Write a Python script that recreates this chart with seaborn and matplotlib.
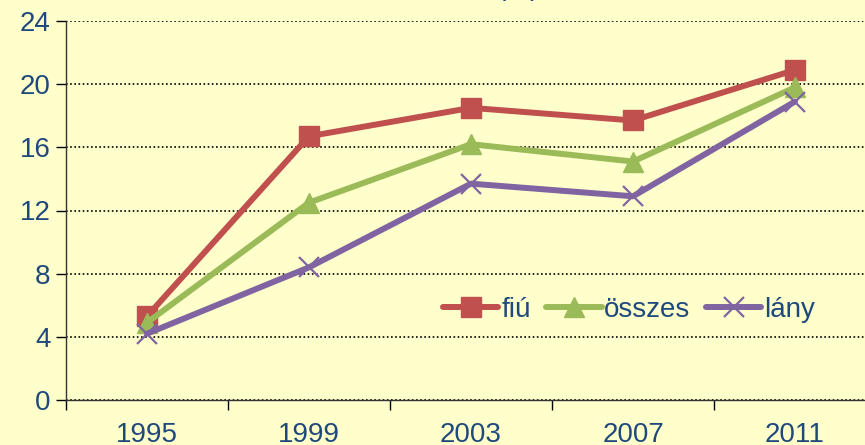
import numpy as np
import seaborn as sns
import matplotlib.pyplot as plt
from matplotlib.ticker import MultipleLocator

years = ["1995", "1999", "2003", "2007", "2011"]
fiu = [5.3, 16.7, 18.5, 17.7, 20.9]
osszes = [4.9, 12.5, 16.2, 15.1, 19.8]
lany = [4.2, 8.4, 13.7, 12.9, 18.9]

series = [("fiú", fiu, "#C0504D", "s", 14.5),
          ("összes", osszes, "#9BBB59", "^", 15),
          ("lány", lany, "#8064A2", "x", 14)]

bg = "#FFFFCC"
txt = "#1F497D"

sns.set_style("white")
plt.rcParams["font.family"] = ["Liberation Sans", "DejaVu Sans"]

fig = plt.figure(figsize=(8.65, 4.45), dpi=100, facecolor=bg)
ax = fig.add_axes([66 / 865, 45 / 445, 810 / 865, 379 / 445])
ax.set_facecolor(bg)

for name, vals, c, m, ms in series:
    sns.lineplot(x=years, y=vals, color=c, marker=m, markersize=ms,
                 markeredgecolor=c, markerfacecolor=c,
                 markeredgewidth=1.6 if m == "x" else 1,
                 linewidth=4.3, label=name, ax=ax, sort=False)

ax.set_xlim(-0.5, 4.5)
ax.set_ylim(0, 24)
ax.yaxis.set_major_locator(MultipleLocator(4))
ax.grid(axis="y", color="black", linestyle=(0, (1, 1.5)), linewidth=1.2)
ax.grid(axis="x", visible=False)
ax.set_axisbelow(True)

ax.set_xticks(np.arange(-0.5, 5, 1), minor=False)
ax.set_xticklabels([])
ax.set_xticks(range(len(years)), minor=True)
ax.set_xticklabels(years, minor=True)
ax.tick_params(axis="x", which="major", length=7, direction="out", color="black", width=1)
ax.tick_params(axis="x", which="minor", length=0, pad=16, labelsize=20, labelcolor=txt)
ax.tick_params(axis="y", length=7, direction="out", color="black", width=1,
               labelsize=20, labelcolor=txt, pad=4)
ax.xaxis.set_ticks_position("bottom")
ax.yaxis.set_ticks_position("left")

for s in ["top", "right"]:
    ax.spines[s].set_visible(False)
for s in ["left", "bottom"]:
    ax.spines[s].set_color("#333333")
    ax.spines[s].set_linewidth(1)

ax.set_xlabel("")
ax.set_ylabel("")

ax.legend(loc="center", bbox_to_anchor=(0.695, 0.237), ncol=3, frameon=False,
          fontsize=20, labelcolor=txt, handlelength=2.0, handletextpad=0.1,
          columnspacing=0.55)

fig.text(518 / 865, 1.0 + 12 / 445, "(%)", ha="center", va="center", fontsize=20, color=txt)

fig.savefig("out.png", dpi=100, facecolor=bg)
